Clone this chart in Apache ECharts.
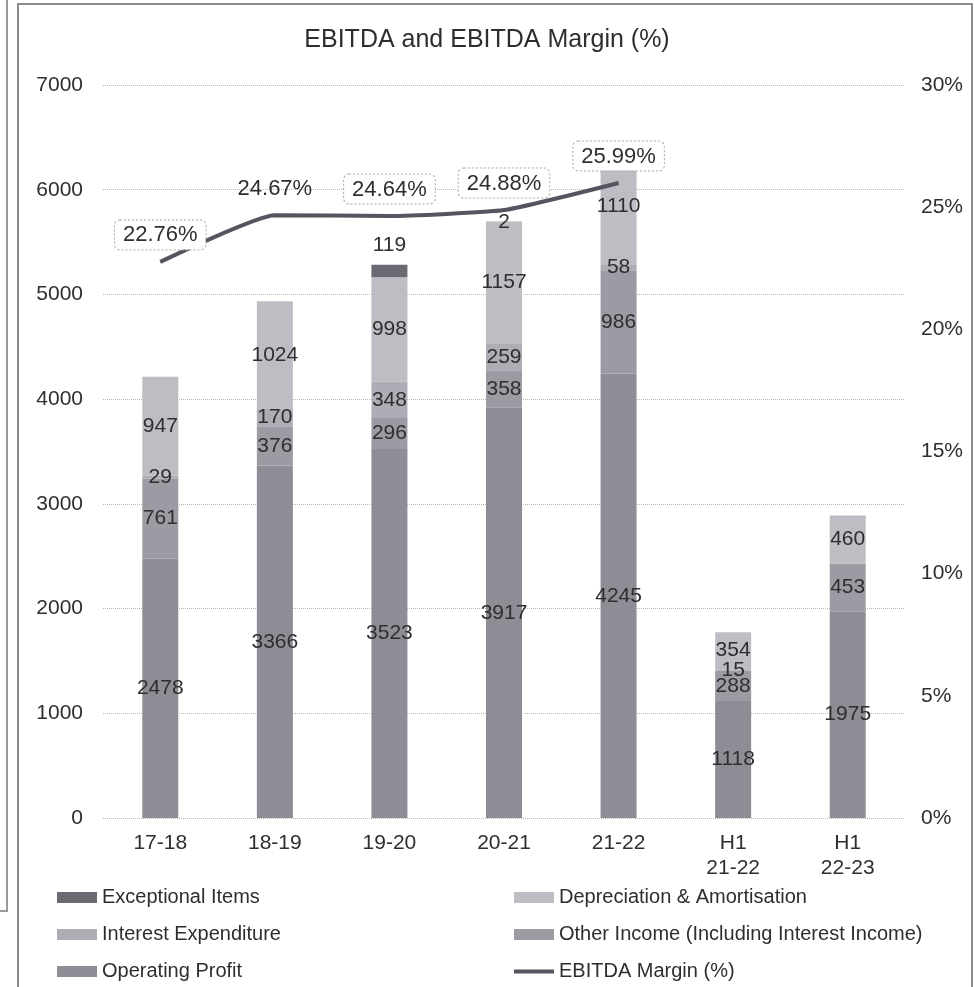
<!DOCTYPE html>
<html>
<head>
<meta charset="utf-8">
<title>EBITDA and EBITDA Margin (%)</title>
<script src="https://cdn.jsdelivr.net/npm/echarts@6/dist/echarts.min.js"></script>
<style>
html, body { margin:0; padding:0; background:#fff; }
#wrap { position:relative; width:974px; height:987px; overflow:hidden; background:#fff; }
#side { position:absolute; left:-4px; top:-4px; width:8px; height:912px; border:2px solid #9a9a9a; }
#frame { position:absolute; left:17px; top:3px; width:952px; height:990px; border:2px solid #8c8c8c; }
#chart { position:absolute; left:0; top:0; width:974px; height:987px; }
</style>
</head>
<body>
<div id="wrap">
    <div id="side"></div>
    <div id="frame"></div>
    <div id="chart"></div>
</div>
<script type="text/javascript">
// data (Rs crore / %)
var categories = ['17-18', '18-19', '19-20', '20-21', '21-22', 'H1\n21-22', 'H1\n22-23'];
var operatingProfit = [2478, 3366, 3523, 3917, 4245, 1118, 1975];
var otherIncome     = [761, 376, 296, 358, 986, 288, 453];
var interestExp     = [29, 170, 348, 259, 58, 15, null];
var depreciation    = [947, 1024, 998, 1157, 1110, 354, 460];
var exceptional     = [null, null, 119, 2, null, null, null];
var ebitdaMargin    = [22.76, 24.67, 24.64, 24.88, 25.99, null, null];

var FONT = '"Liberation Sans", Arial, sans-serif';

var myChart = echarts.init(document.getElementById('chart'));

function barSeries(name, data, color) {
    return {
        name: name,
        type: 'bar',
        stack: 'ebitda',
        barWidth: 36,
        data: data,
        itemStyle: { color: color },
        label: {
            show: true,
            position: 'inside',
            color: '#2e2e2e',
            fontSize: 21,
            fontFamily: FONT
        }
    };
}

function legendBox(left, top, names, h) {
    return {
        orient: 'vertical',
        left: left,
        top: top,
        padding: 0,
        icon: 'rect',
        itemWidth: 40,
        itemHeight: h,
        itemGap: 16,
        textStyle: { fontSize: 20, lineHeight: 21, color: '#2e2e2e', fontFamily: FONT, padding: [0, 0, 0, 0] },
        data: names
    };
}

// bigger exceptional items sit above the bar like in the original
var excData = exceptional.map(function (v) {
    if (v != null && v > 50) {
        return { value: v, label: { position: 'top', distance: 9 } };
    }
    return v;
});

// second margin label has no box around it
var marginData = ebitdaMargin.map(function (v, i) {
    if (i === 1) {
        return { value: v, label: { borderWidth: 0, backgroundColor: 'transparent' } };
    }
    return v;
});

var option = {
    backgroundColor: 'transparent',
    animation: false,
    textStyle: { fontFamily: FONT },
    title: {
        text: 'EBITDA and EBITDA Margin (%)',
        left: 'center',
        top: 23,
        textStyle: { fontSize: 25, fontWeight: 'normal', color: '#2e2e2e', fontFamily: FONT }
    },
    grid: { left: 103, right: 69, top: 85, bottom: 169 },
    legend: [
        legendBox(57, 887, ['Exceptional Items', 'Interest Expenditure', 'Operating Profit'], 11),
        legendBox(514, 887, ['Depreciation & Amortisation', 'Other Income (Including Interest Income)'], 11),
        legendBox(514, 961, ['EBITDA Margin (%)'], 4)
    ],
    xAxis: {
        type: 'category',
        data: categories,
        axisLine: { show: false },
        axisTick: { show: false },
        axisLabel: { fontSize: 21, color: '#2e2e2e', margin: 13, lineHeight: 25, fontFamily: FONT }
    },
    yAxis: [
        {
            type: 'value',
            min: 0,
            max: 7000,
            interval: 1000,
            axisLine: { show: false },
            axisTick: { show: false },
            axisLabel: { fontSize: 21, color: '#2e2e2e', margin: 20, fontFamily: FONT, formatter: function (v) { return String(v); } },
            splitLine: { lineStyle: { color: '#b8b8b8', type: 'dotted', width: 1 } }
        },
        {
            type: 'value',
            min: 0,
            max: 30,
            interval: 5,
            position: 'right',
            axisLine: { show: false },
            axisTick: { show: false },
            splitLine: { show: false },
            axisLabel: { fontSize: 21, color: '#2e2e2e', margin: 16, formatter: '{value}%', fontFamily: FONT }
        }
    ],
    series: [
        barSeries('Operating Profit', operatingProfit, '#8d8d96'),
        barSeries('Other Income (Including Interest Income)', otherIncome, '#9b9ba3'),
        barSeries('Interest Expenditure', interestExp, '#adadb5'),
        barSeries('Depreciation & Amortisation', depreciation, '#bdbdc4'),
        barSeries('Exceptional Items', excData, '#6a6a73'),
        {
            name: 'EBITDA Margin (%)',
            type: 'line',
            yAxisIndex: 1,
            data: marginData,
            smooth: 0.15,
            symbol: 'circle',
            symbolSize: 1,
            showSymbol: true,
            z: 5,
            lineStyle: { color: '#54555e', width: 4 },
            itemStyle: { color: '#54555e' },
            label: {
                show: true,
                position: 'top',
                distance: 12,
                formatter: function (p) {
                    var v = Array.isArray(p.value) ? p.value[1] : p.value;
                    return v == null ? '' : Number(v).toFixed(2) + '%';
                },
                fontSize: 22,
                color: '#2e2e2e',
                fontFamily: FONT,
                backgroundColor: '#fff',
                borderColor: '#a8a8a8',
                borderWidth: 1,
                borderType: 'dotted',
                borderRadius: 5,
                padding: [4, 8, 3, 8]
            },
            labelLayout: { hideOverlap: false }
        }
    ]
};

myChart.setOption(option);
</script>
</body>
</html>
